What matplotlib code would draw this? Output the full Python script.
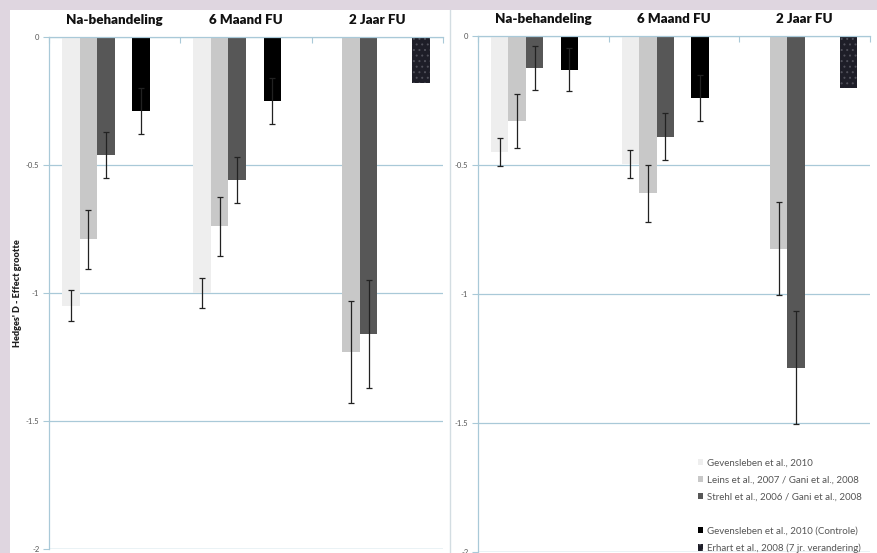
import numpy as np
import matplotlib
matplotlib.use("Agg")
import matplotlib.pyplot as plt
from matplotlib.patches import Patch, Rectangle
from matplotlib.lines import Line2D

plt.rcParams['font.family'] = ['Lato', 'DejaVu Sans']
plt.rcParams['hatch.color'] = '#50505a'
plt.rcParams['hatch.linewidth'] = 0.7

categories = ["Na-behandeling", "6 Maand FU", "2 Jaar FU"]
series_labels = ["Gevensleben et al., 2010",
                 "Leins et al., 2007 / Gani et al., 2008",
                 "Strehl et al., 2006 / Gani et al., 2008",
                 " ",
                 "Gevensleben et al., 2010 (Controle)",
                 "Erhart et al., 2008 (7 jr. verandering)"]
nan = np.nan

# Left panel values and error bars
gev_L = [-1.05, -1.00, nan];      gev_L_err = [0.06, 0.06, nan]
leins_L = [-0.79, -0.74, -1.23];  leins_L_err = [0.115, 0.115, 0.20]
strehl_L = [-0.46, -0.56, -1.16]; strehl_L_err = [0.09, 0.09, 0.21]
blank_L = [nan, nan, nan]
ctrl_L = [-0.29, -0.25, nan];     ctrl_L_err = [0.09, 0.09, nan]
erhart_L = [nan, nan, -0.18]

# Right panel values and error bars
gev_R = [-0.45, -0.495, nan];     gev_R_err = [0.055, 0.055, nan]
leins_R = [-0.33, -0.61, -0.825]; leins_R_err = [0.105, 0.11, 0.18]
strehl_R = [-0.125, -0.39, -1.285]; strehl_R_err = [0.085, 0.09, 0.22]
blank_R = [nan, nan, nan]
ctrl_R = [-0.13, -0.24, nan];     ctrl_R_err = [0.085, 0.09, nan]
erhart_R = [nan, nan, -0.20]

yticks = [0, -0.5, -1, -1.5, -2]
ytick_labels = ["0", "-0.5", "-1", "-1.5", "-2"]
ylabel = "Hedges' D - Effect grootte"

colors = ['#eeeeee', '#c8c8c8', '#575757', 'none', '#000000', '#1e1e28']
hatches = [None, None, None, None, None, '...']

W, H = 878, 553
fig = plt.figure(figsize=(W / 100, H / 100), dpi=100, facecolor='#dfd6e0')
fig.patches.append(Rectangle((10 / W, 0), 1 - 10 / W, 1 - 10 / H,
                             transform=fig.transFigure, facecolor='white',
                             edgecolor='none', zorder=-5))
fig.lines.append(Line2D([450 / W, 450 / W], [0, 1 - 10 / H], transform=fig.transFigure,
                        color='#d3dde2', lw=1.0, zorder=-4))

grid_c = '#a9c9d8'
bw = 1 / 7.5


def panel(rect, vals, errs, height_px):
    ax = fig.add_axes(rect)
    ax.set_facecolor('none')
    x = np.arange(len(categories))
    handles = []
    for i, (v, e) in enumerate(zip(vals, errs)):
        off = (i - 2.5) * bw
        if colors[i] == 'none':
            handles.append(Patch(facecolor='none', edgecolor='none'))
            continue
        b = ax.bar(x + off, v, width=bw, color=colors[i], hatch=hatches[i],
                   linewidth=0, zorder=2)
        handles.append(b)
        if e is not None:
            ax.errorbar(x + off, v, yerr=e, fmt='none', ecolor='#222222',
                        elinewidth=0.9, capsize=2.5, capthick=0.9, zorder=3)
    ax.set_ylim(-2, 0)
    ax.set_xlim(-0.5, 2.5)
    ax.set_yticks(yticks)
    ax.set_yticklabels(ytick_labels)
    ax.yaxis.grid(True, color=grid_c, lw=0.9, zorder=1)
    ax.set_axisbelow(True)
    for s in ['right', 'bottom']:
        ax.spines[s].set_visible(False)
    ax.spines['left'].set_color(grid_c)
    ax.spines['top'].set_color(grid_c)
    ax.spines['top'].set_linewidth(0.9)
    ax.spines['left'].set_linewidth(0.9)
    ax.axhline(-2, color=grid_c, lw=0.9, zorder=1)
    ax.tick_params(axis='y', length=4, color=grid_c, labelsize=5.5,
                   labelcolor='#555555', pad=3)
    ax.xaxis.tick_top()
    ax.set_xticks([-0.5, 0.5, 1.5, 2.5])
    ax.set_xticklabels([])
    ax.tick_params(axis='x', direction='in', length=4, color=grid_c)
    off_ax = 17 / height_px
    for i, c in enumerate(categories):
        ax.text(i, 1 + off_ax, c, transform=ax.get_xaxis_transform(),
                ha='center', va='center', fontsize=9.6, fontweight='heavy',
                color='#111111')
    return ax, handles


axL, hL = panel([49 / W, 1 - 549 / H, (443 - 49) / W, (549 - 37) / H],
                [gev_L, leins_L, strehl_L, blank_L, ctrl_L, erhart_L],
                [gev_L_err, leins_L_err, strehl_L_err, None, ctrl_L_err, None],
                512)
axR, hR = panel([478 / W, 1 - 552 / H, (870 - 478) / W, (552 - 36) / H],
                [gev_R, leins_R, strehl_R, blank_R, ctrl_R, erhart_R],
                [gev_R_err, leins_R_err, strehl_R_err, None, ctrl_R_err, None],
                516)

fig.text(18 / W, 1 - 293 / H, ylabel, rotation=90, ha='center', va='center',
         fontsize=6.6, fontweight='heavy', color='#222222')

leg = fig.legend(hR, series_labels, loc='upper left',
                 bbox_to_anchor=(698 / W, 1 - 458.5 / H), bbox_transform=fig.transFigure,
                 frameon=False, fontsize=7, labelcolor='#555555',
                 handlelength=0.55, handleheight=0.6, handletextpad=0.35,
                 labelspacing=0.82, borderpad=0, borderaxespad=0)

fig.savefig('out.png', dpi=100, facecolor=fig.get_facecolor())
